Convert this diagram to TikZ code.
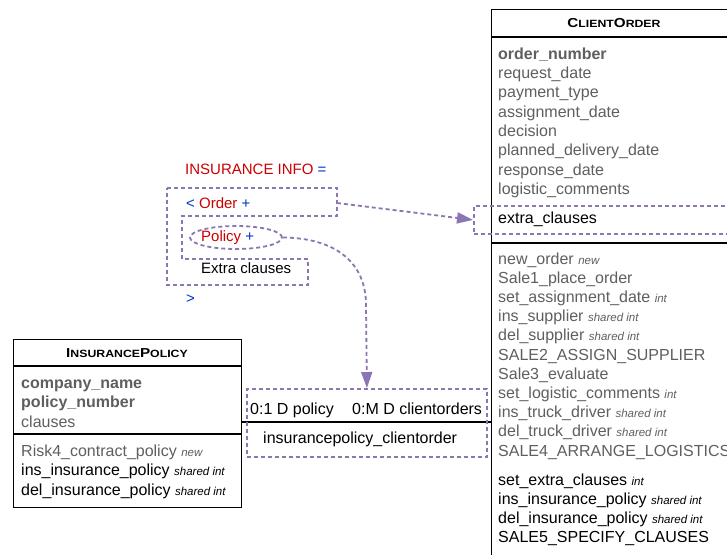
\documentclass[tikz,border=0pt]{standalone}
\usepackage{fontspec}
\setmainfont{Liberation Sans}
\usepackage{graphicx}
\usetikzlibrary{arrows.meta,shapes.geometric}
\definecolor{txtgray}{RGB}{95,95,95}
\definecolor{dpurple}{RGB}{140,118,178}
\definecolor{kred}{RGB}{204,0,0}
\definecolor{kblue}{RGB}{0,51,204}
\newcommand\myann[1]{{\fontsize{11.5}{13}\selectfont\itshape #1}}
\newcommand\mytitle[4]{\scalebox{1.17}[1]{\bfseries\fontsize{13}{14}\selectfont #1{\fontsize{10.5}{11}\selectfont #2}#3{\fontsize{10.5}{11}\selectfont #4}}}
\begin{document}
\begin{tikzpicture}[x=1pt,y=-1pt,
  cls/.style={draw=black,line width=1.2pt},
  ln/.style={anchor=base west,inner sep=0pt,font=\fontsize{16}{19}\selectfont},
  gr/.style={ln,text=txtgray},
  bk/.style={ln,text=black},
  dsh/.style={draw=dpurple,line width=1.8pt,dash pattern=on 4pt off 3pt},
  kt/.style={anchor=base west,inner sep=0pt,font=\fontsize{15}{18}\selectfont},
  arr/.style={dsh,-{Triangle[length=16pt,width=11pt,fill=dpurple]}}
]
\useasboundingbox (0,0) rectangle (727,554);
\fill[white] (0,0) rectangle (727,554);
\begin{scope}
\clip (0,0) rectangle (727,554);
% ClientOrder
\node[cls,anchor=north west,minimum width=245pt,minimum height=560pt,inner sep=0pt] (co) at (491,9) {};
\draw[cls] (491,37) -- (736,37);
\draw[cls] (491,243) -- (736,243);
\node[inner sep=0pt,anchor=base] (cot) at (614,27.5) {\mytitle{C}{LIENT}{O}{RDER}};
\node[gr] (co1) at (498,59) {\bfseries order\_number};
\node[gr] (co2) at (498,78.3) {request\_date};
\node[gr] (co3) at (498,97.6) {payment\_type};
\node[gr] (co4) at (498,117) {assignment\_date};
\node[gr] (co5) at (498,136.3) {decision};
\node[gr] (co6) at (498,155.6) {planned\_delivery\_date};
\node[gr] (co7) at (498,175) {response\_date};
\node[gr] (co8) at (498,194.3) {logistic\_comments};
\node[dsh,anchor=north west,minimum width=290pt,minimum height=28pt,inner sep=0pt] (ex) at (473,205) {};
\node[bk] (co9) at (498,223) {extra\_clauses};
\node[gr] (op1) at (498,264) {new\_order \myann{new}};
\node[gr] (op2) at (498,283.2) {Sale1\_place\_order};
\node[gr] (op3) at (498,302.4) {set\_assignment\_date \myann{int}};
\node[gr] (op4) at (498,321.6) {ins\_supplier \myann{shared int}};
\node[gr] (op5) at (498,340.8) {del\_supplier \myann{shared int}};
\node[gr] (op6) at (498,360) {SALE2\_ASSIGN\_SUPPLIER};
\node[gr] (op7) at (498,379.2) {Sale3\_evaluate};
\node[gr] (op8) at (498,398.4) {set\_logistic\_comments \myann{int}};
\node[gr] (op9) at (498,417.6) {ins\_truck\_driver \myann{shared int}};
\node[gr] (op10) at (498,436.8) {del\_truck\_driver \myann{shared int}};
\node[gr] (op11) at (498,456) {SALE4\_ARRANGE\_LOGISTICS};
\node[bk] (op12) at (498,485) {set\_extra\_clauses \myann{int}};
\node[bk] (op13) at (498,504.2) {ins\_insurance\_policy \myann{shared int}};
\node[bk] (op14) at (498,523.4) {del\_insurance\_policy \myann{shared int}};
\node[bk] (op15) at (498,542.6) {SALE5\_SPECIFY\_CLAUSES};
% InsurancePolicy
\node[cls,anchor=north west,minimum width=228pt,minimum height=168pt,inner sep=0pt,fill=white] (ip) at (13,339) {};
\draw[cls] (13,366) -- (241,366);
\draw[cls] (13,434) -- (241,434);
\node[inner sep=0pt,anchor=base] (ipt) at (127,357.5) {\mytitle{I}{NSURANCE}{P}{OLICY}};
\node[gr] (ip1) at (21,388) {\bfseries company\_name};
\node[gr] (ip2) at (21,407.5) {\bfseries policy\_number};
\node[gr] (ip3) at (21,427) {clauses};
\node[gr] (ip4) at (21,456) {Risk4\_contract\_policy \myann{new}};
\node[bk] (ip5) at (21,475.5) {ins\_insurance\_policy \myann{shared int}};
\node[bk] (ip6) at (21,495) {del\_insurance\_policy \myann{shared int}};
% association
\coordinate (ipC) at (241,422);
\coordinate (coC) at (491,422);
\draw[cls] (ipC) -- (coC);
\node[dsh,anchor=north west,minimum width=240pt,minimum height=68pt,inner sep=0pt] (ac) at (246,388) {};
\node[bk] (ac1) at (250,414) {0:1 D policy};
\node[bk] (ac2) at (352,414) {0:M D clientorders};
\node[bk] (ac3) at (263,443) {insurancepolicy\_clientorder};
% insurance info
\node[kt] (k1) at (185,174) {\color{kred}INSURANCE INFO \color{kblue}=};
\node[kt] (k2) at (186,208) {\color{kblue}< \color{kred}Order \color{kblue}+};
\node[kt] (k3) at (201,241) {\color{kred}Policy \color{kblue}+};
\node[kt] (k4) at (201,273) {Extra clauses};
\node[kt] (k5) at (186,303) {\color{kblue}>};
\draw[dsh] (167,188) -- (337,188) -- (337,216) -- (182,216) -- (182,259) -- (308,259) -- (308,285) -- (167,285) -- cycle;
\coordinate (ordR) at (337,203);
\node[dsh,ellipse,minimum width=92pt,minimum height=23pt,inner sep=0pt] (pol) at (236,237.5) {};
\draw[arr] (ordR) -- (ex.west);
\draw[arr] (pol.east) .. controls (335,238) and (366,262) .. (366,305) -- (ac.north);
\end{scope}
\end{tikzpicture}
\end{document}
